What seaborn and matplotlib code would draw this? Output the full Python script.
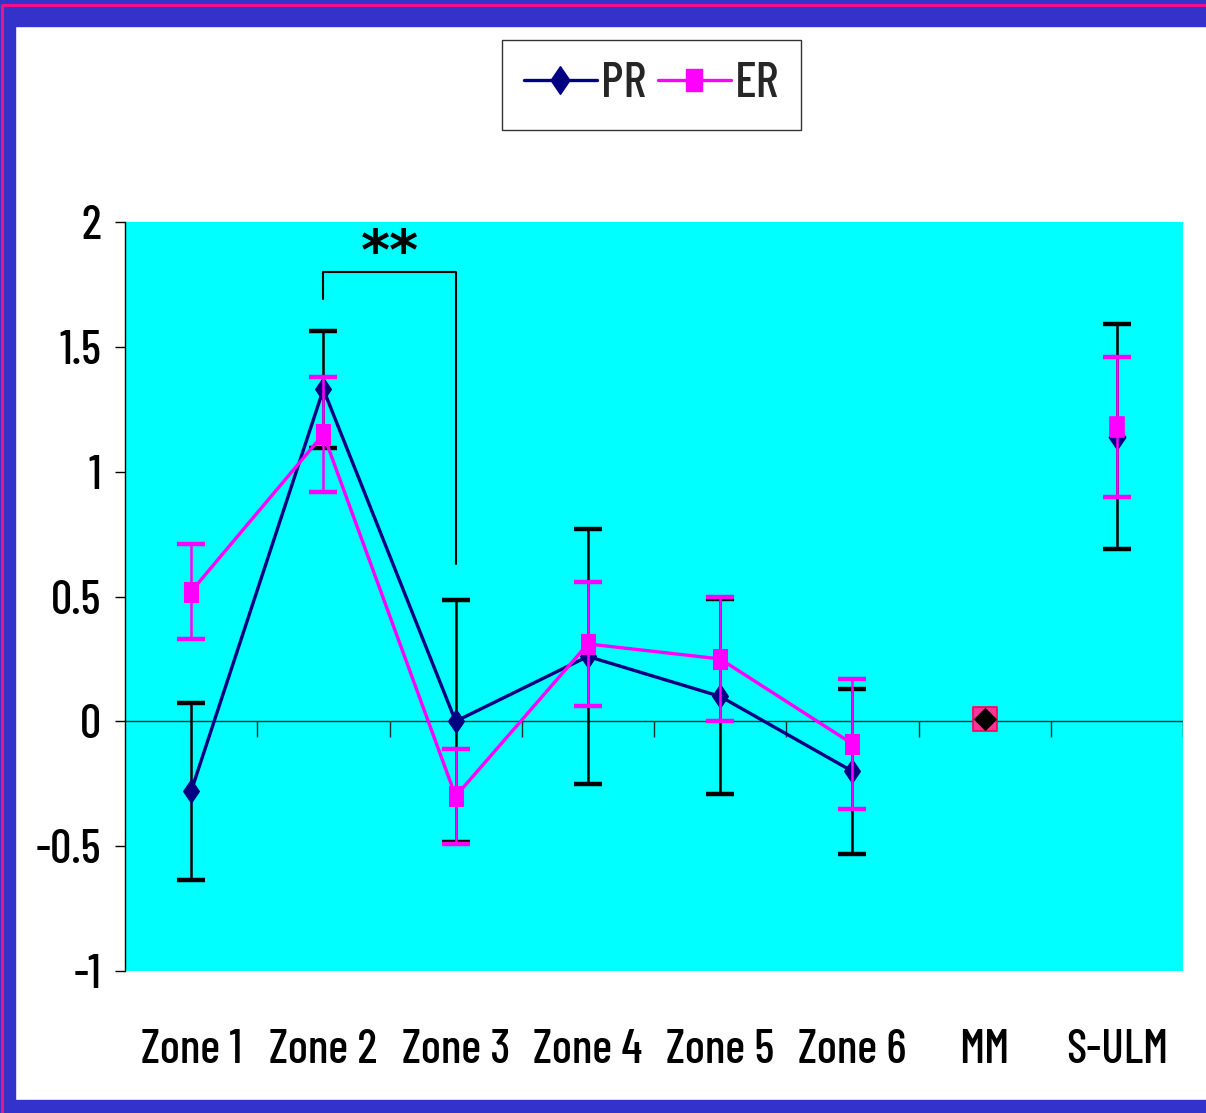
import numpy as np
import pandas as pd
import matplotlib
matplotlib.use("Agg")
import matplotlib.pyplot as plt
from matplotlib.patches import Rectangle
from matplotlib.lines import Line2D
import seaborn as sns

# ---- data -------------------------------------------------------------
categories = ["Zone 1", "Zone 2", "Zone 3", "Zone 4", "Zone 5", "Zone 6", "MM", "S-ULM"]
pr_mean = [-0.28, 1.33, 0.00, 0.26, 0.10, -0.20, 0.01, 1.14]
pr_err = [0.355, 0.235, 0.485, 0.51, 0.39, 0.33, np.nan, 0.45]
er_mean = [0.52, 1.15, -0.30, 0.31, 0.25, -0.09, 0.01, 1.18]
er_err = [0.19, 0.23, 0.19, 0.25, 0.25, 0.26, np.nan, 0.28]
n_connected = 6          # zones joined by a line
y_ticks = [-1, -0.5, 0, 0.5, 1, 1.5, 2]
y_tick_labels = ["-1", "-0.5", "0", "0.5", "1", "1.5", "2"]
sig_pair = [1, 2]                    # Zone 2 vs Zone 3
sig_levels = [1.69, 1.80, 0.63]      # left foot, bracket top, right foot
sig_label = "**"
sig_label_y = 1.87

# ---- style ------------------------------------------------------------
sns.set_theme(style="white")
plt.rcParams["font.family"] = ["Barlow Condensed", "Archivo Narrow", "Liberation Sans", "DejaVu Sans"]
plt.rcParams["font.weight"] = 500
plt.rcParams["axes.unicode_minus"] = False

NAVY = "#000080"
MAGENTA = "#FF00FF"
CYAN = "#00FFFF"
FRAME = "#3333CC"
FRAME_LINE = "#EE1188"

# vertically stretched marker shapes
diamond = [(0, 1.25), (0.85, 0), (0, -1.25), (-0.85, 0), (0, 1.25)]
square = [(-0.72, -1), (0.72, -1), (0.72, 1), (-0.72, 1), (-0.72, -1)]

df = pd.DataFrame({"x": np.arange(len(categories)), "cat": categories,
                   "PR": pr_mean, "ER": er_mean,
                   "PR_err": pr_err, "ER_err": er_err})
line_df = df.iloc[:n_connected]
single_df = df.iloc[n_connected:]

W, H, DPI = 1206, 1113, 100
fig = plt.figure(figsize=(W / DPI, H / DPI), dpi=DPI, facecolor="white")

# outer frame
fig.patches.append(Rectangle((0, 1 - 26 / H), 1, 26 / H, transform=fig.transFigure,
                             color=FRAME, zorder=0))
fig.patches.append(Rectangle((0, 0), 15 / W, 1, transform=fig.transFigure,
                             color=FRAME, zorder=0))
fig.patches.append(Rectangle((0, 0), 1, 13 / H, transform=fig.transFigure,
                             color=FRAME, zorder=0))
fig.lines.append(Line2D([2 / W, 1], [1 - 5 / H, 1 - 5 / H], transform=fig.transFigure,
                        color=FRAME_LINE, lw=2.2, zorder=1))
fig.lines.append(Line2D([2 / W, 2 / W], [0, 1 - 5 / H], transform=fig.transFigure,
                        color=FRAME_LINE, lw=2.2, zorder=1))

ax = fig.add_axes([125 / W, 142 / H, 1058 / W, 749 / H])
ax.set_facecolor(CYAN)
ax.set_xlim(-0.5, len(categories) - 0.5)
ax.set_ylim(-1, 2)

# zero line with category divider ticks
ax.axhline(0, color="#103030", lw=1.0, zorder=1)
bounds = np.arange(len(categories)) + 0.5
tick_len = 16 / 749 * 3
ax.vlines(bounds, -tick_len, 0, color="#103030", lw=1.0, zorder=1)

# PR: error bars, then line with markers
ax.errorbar(df["x"], df["PR"], yerr=df["PR_err"], fmt="none", ecolor="black",
            elinewidth=1.8, capsize=10, capthick=3.2, zorder=2)
sns.lineplot(data=line_df, x="x", y="PR", ax=ax, color=NAVY, lw=2.4,
             marker=diamond, markersize=17, markeredgecolor=NAVY,
             markerfacecolor=NAVY, zorder=3, legend=False)
sns.scatterplot(data=single_df.iloc[[1]], x="x", y="PR", ax=ax, marker=diamond,
                s=17 ** 2, color=NAVY, edgecolor=NAVY, zorder=3, legend=False)

# ER: error bars, then line with markers
ax.errorbar(df["x"], df["ER"], yerr=df["ER_err"], fmt="none", ecolor=MAGENTA,
            elinewidth=1.8, capsize=10, capthick=3.2, zorder=4)
sns.lineplot(data=line_df, x="x", y="ER", ax=ax, color=MAGENTA, lw=2.4,
             marker=square, markersize=15, markeredgecolor=MAGENTA,
             markerfacecolor=MAGENTA, zorder=5, legend=False)
sns.scatterplot(data=single_df.iloc[[1]], x="x", y="ER", ax=ax, marker=square,
                s=15 ** 2, color=MAGENTA, edgecolor=MAGENTA, zorder=5, legend=False)

# MM reference point: pink square with black diamond
sns.scatterplot(data=single_df.iloc[[0]], x="x", y="ER", ax=ax, marker="s",
                s=17 ** 2, color="#FF3399", edgecolor="#FF0055", linewidth=1.2,
                zorder=6, legend=False)
sns.scatterplot(data=single_df.iloc[[0]], x="x", y="PR", ax=ax, marker="D",
                s=11 ** 2, color="black", edgecolor="black", zorder=7, legend=False)

# significance bracket
xl, xr = sig_pair
ax.plot([xl, xl, xr, xr], [sig_levels[0], sig_levels[1], sig_levels[1], sig_levels[2]],
        color="black", lw=1.5, zorder=6)
ax.text((xl + xr) / 2, sig_label_y, sig_label, ha="center", va="center",
        fontsize=40, fontweight="bold", family=["DejaVu Sans"], color="black")

# axes styling
for side in ("top", "right", "bottom"):
    ax.spines[side].set_visible(False)
ax.spines["left"].set_color("black")
ax.spines["left"].set_linewidth(1.0)
ax.set_yticks(y_ticks)
ax.set_yticklabels(y_tick_labels)
ax.tick_params(axis="y", direction="out", length=7, width=1.0, color="black",
               pad=10, labelsize=34, labelcolor="black", left=True)
ax.set_xticks(df["x"])
ax.set_xticklabels(categories)
ax.tick_params(axis="x", length=0, pad=42, labelsize=34, labelcolor="black")
ax.set_xlabel("")
ax.set_ylabel("")
ax.grid(False)

# legend
handles = [
    Line2D([], [], color=NAVY, lw=2.4, marker=diamond, markersize=20,
           markerfacecolor=NAVY, markeredgecolor=NAVY),
    Line2D([], [], color=MAGENTA, lw=2.4, marker=square, markersize=16,
           markerfacecolor=MAGENTA, markeredgecolor=MAGENTA),
]
leg = fig.legend(handles, ["PR", "ER"], loc="center", bbox_to_anchor=(651.5 / W, 1 - 84.5 / H),
                 ncol=2, fontsize=36, frameon=True, fancybox=False, handlelength=1.45,
                 handletextpad=0.08, columnspacing=0.25, borderpad=0.45, borderaxespad=0)
leg.get_frame().set_edgecolor("black")
leg.get_frame().set_linewidth(1.0)
leg.get_frame().set_facecolor("white")

fig.savefig("out.png", dpi=DPI, facecolor="white")
